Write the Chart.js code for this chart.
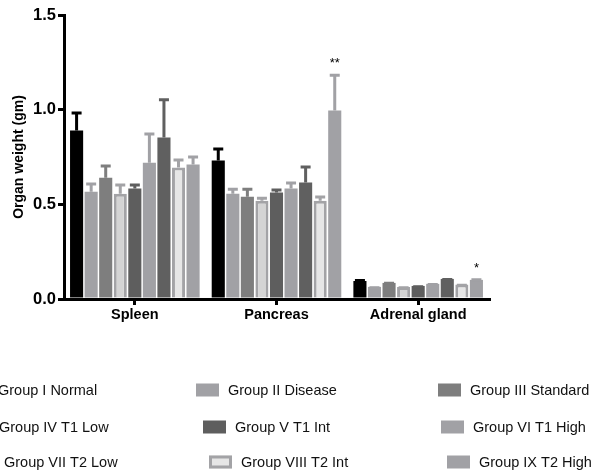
<!DOCTYPE html>
<html>
<head>
<meta charset="utf-8">
<script src="https://cdn.jsdelivr.net/npm/chart.js@4.4.1/dist/chart.umd.min.js"></script>
<style>
  html, body { margin: 0; padding: 0; background: #ffffff; overflow: hidden; }
  #wrap { position: relative; width: 592px; height: 473px; }
</style>
</head>
<body>
<div id="wrap"><canvas id="c" width="592" height="473"></canvas></div>
<script>
// ---- Data ----
const categories = ['Spleen', 'Pancreas', 'Adrenal gland'];
const groupLabels = [
  'Group I Normal', 'Group II Disease', 'Group III Standard',
  'Group IV T1 Low', 'Group V T1 Int', 'Group VI T1 High',
  'Group VII T2 Low', 'Group VIII T2 Int', 'Group IX T2 High'
];
// mean organ weight (gm) per group: [Spleen, Pancreas, Adrenal gland]
const normal     = [0.890, 0.731, 0.095];
const disease    = [0.567, 0.556, 0.064];
const standard   = [0.640, 0.540, 0.085];
const t1Low      = [0.556, 0.519, 0.063];
const t1Int      = [0.583, 0.562, 0.069];
const t1High     = [0.720, 0.583, 0.080];
const t2Low      = [0.853, 0.615, 0.106];
const t2Int      = [0.694, 0.519, 0.077];
const t2High     = [0.710, 0.996, 0.101];
// upper error (SEM) per group
const normalErr   = [0.100, 0.069, 0.011];
const diseaseErr  = [0.048, 0.032, 0.004];
const standardErr = [0.070, 0.048, 0.006];
const t1LowErr    = [0.054, 0.021, 0.004];
const t1IntErr    = [0.027, 0.021, 0.003];
const t1HighErr   = [0.160, 0.037, 0.004];
const t2LowErr    = [0.207, 0.090, 0.005];
const t2IntErr    = [0.048, 0.027, 0.004];
const t2HighErr   = [0.048, 0.194, 0.008];
// y axis ticks
const yTicks = [0, 0.5, 1.0, 1.5];
// significance marks: [category index, group index, text]
const significance = [[1, 8, '**'], [2, 8, '*']];

const seriesValues = [normal, disease, standard, t1Low, t1Int, t1High, t2Low, t2Int, t2High];
const seriesErrors = [normalErr, diseaseErr, standardErr, t1LowErr, t1IntErr, t1HighErr, t2LowErr, t2IntErr, t2HighErr];

// ---- Styles ----
const fills   = ['#000000', '#a1a1a5', '#7e7e7e', '#d4d4d4', '#5e5e5e', '#a1a1a5', '#606060', '#e6e6e6', '#a1a1a5'];
const borders = ['#000000', '#a1a1a5', '#7e7e7e', '#a3a3a6', '#5e5e5e', '#a1a1a5', '#606060', '#a3a3a6', '#a1a1a5'];
const borderW = [0, 0, 0, 3, 0, 0, 0, 3, 0];

Chart.defaults.font.family = '"Liberation Sans", Arial, Helvetica, sans-serif';
Chart.defaults.color = '#000000';

const datasets = seriesValues.map((vals, i) => ({
  label: groupLabels[i],
  data: vals,
  errors: seriesErrors[i],
  backgroundColor: fills[i],
  borderColor: borders[i],
  borderWidth: borderW[i],
  borderSkipped: 'bottom',
  categoryPercentage: 0.925,
  barPercentage: 0.9
}));

const errorBarPlugin = {
  id: 'errorBars',
  afterDatasetsDraw(chart) {
    const ctx = chart.ctx;
    const y = chart.scales.y;
    chart.data.datasets.forEach((ds, di) => {
      const meta = chart.getDatasetMeta(di);
      meta.data.forEach((bar, j) => {
        const top = y.getPixelForValue(ds.data[j] + ds.errors[j]);
        ctx.save();
        ctx.strokeStyle = ds.borderColor;
        ctx.lineWidth = 3;
        ctx.lineCap = 'butt';
        ctx.beginPath();
        ctx.moveTo(bar.x, bar.y);
        ctx.lineTo(bar.x, top);
        ctx.moveTo(bar.x - 5, top + 1.5);
        ctx.lineTo(bar.x + 5, top + 1.5);
        ctx.stroke();
        ctx.restore();
      });
    });
    // significance marks
    ctx.save();
    ctx.fillStyle = '#000000';
    ctx.font = '13px "Liberation Sans", Arial, sans-serif';
    ctx.textAlign = 'center';
    ctx.textBaseline = 'middle';
    significance.forEach(([ci, gi, txt]) => {
      const ds = chart.data.datasets[gi];
      const bar = chart.getDatasetMeta(gi).data[ci];
      const top = y.getPixelForValue(ds.data[ci] + ds.errors[ci]);
      ctx.fillText(txt, bar.x, top - 10);
    });
    ctx.restore();
  }
};

// custom legend: 3 rows x 3 columns, as in the reference
const legendPlugin = {
  id: 'gridLegend',
  afterDraw(chart) {
    const ctx = chart.ctx;
    const rowY = [390, 427, 462];
    const colX = [[-34, 196, 438], [-33, 203, 441], [-28, 209, 447]];
    ctx.save();
    ctx.font = '14.5px "Liberation Sans", Arial, sans-serif';
    ctx.textBaseline = 'middle';
    ctx.textAlign = 'left';
    chart.data.datasets.forEach((ds, i) => {
      const r = Math.floor(i / 3), c = i % 3;
      const x = colX[r][c], yc = rowY[r];
      const w = 23, h = 13;
      ctx.fillStyle = ds.backgroundColor;
      ctx.fillRect(x, yc - h / 2, w, h);
      if (ds.borderWidth) {
        ctx.strokeStyle = ds.borderColor;
        ctx.lineWidth = 3;
        ctx.strokeRect(x + 1.5, yc - h / 2 + 1.5, w - 3, h - 3);
      }
      ctx.fillStyle = '#111111';
      ctx.fillText(ds.label, x + 32, yc + 1);
    });
    ctx.restore();
  }
};

new Chart(document.getElementById('c'), {
  type: 'bar',
  data: { labels: categories, datasets },
  options: {
    responsive: false,
    animation: false,
    layout: { padding: { left: 0, right: 103, top: 15, bottom: 144 } },
    plugins: {
      legend: { display: false },
      tooltip: { enabled: false }
    },
    scales: {
      x: {
        grid: { display: true, drawOnChartArea: false, drawTicks: true, tickLength: 6, offset: false, color: '#000000', lineWidth: 3 },
        border: { display: true, color: '#000000', width: 3 },
        ticks: { font: { size: 14.5, weight: 'bold' }, color: '#000000', padding: 1, maxRotation: 0 },
        afterFit(scale) { scale.height = 30; }
      },
      y: {
        min: 0, max: 1.5,
        afterBuildTicks(scale) { scale.ticks = yTicks.map(v => ({ value: v })); },
        grid: { display: true, drawOnChartArea: false, drawTicks: true, tickLength: 6, color: '#000000', lineWidth: 3 },
        border: { display: true, color: '#000000', width: 3 },
        ticks: { font: { size: 16.5, weight: 'bold' }, color: '#000000', padding: 2, callback: v => Number(v).toFixed(1) },
        title: { display: true, text: 'Organ weight (gm)', font: { size: 14, weight: 'bold' }, color: '#000000', padding: { top: 11, bottom: 0 } },
        afterFit(scale) { scale.width = 64; }
      }
    }
  },
  plugins: [errorBarPlugin, legendPlugin]
});
</script>
</body>
</html>
